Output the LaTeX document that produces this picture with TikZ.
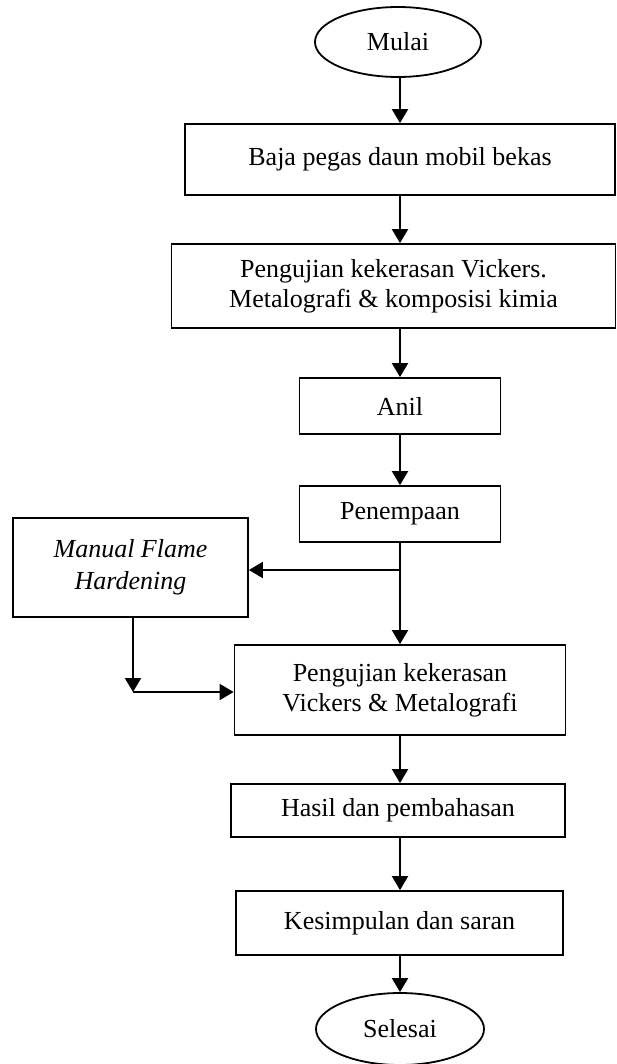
\documentclass[tikz,border=0pt]{standalone}
\usepackage{fontspec}
\setmainfont{Liberation Serif}
\usetikzlibrary{arrows.meta}
\usetikzlibrary{shapes.geometric}
\tikzset{proses/.style = {draw, line width = 0.9pt, inner sep = 0, align = center},
         batas/.style = {draw, ellipse, line width = 0.9pt, inner sep = 0},
         panah/.style = {line width = 1pt, -{Triangle[length = 7pt, width = 8pt]}}}

\begin{document}
\begin{tikzpicture}[x = 0.5pt, y = -0.5pt, font = \fontsize{13}{15}\selectfont]
      \useasboundingbox (0, 0) rectangle (616, 1064);
      \node [batas, minimum width = 83pt, minimum height = 35pt] (mulai) at (398, 42) {Mulai};
      \node [proses, minimum width = 215pt, minimum height = 35.5pt] (baja) at (400, 159.5)
        {Baja pegas daun mobil bekas};
      \node [proses, minimum width = 222pt, minimum height = 42pt] (uji1) at (393.5, 286)
        {Pengujian kekerasan Vickers.\\Metalografi \& komposisi kimia};
      \node [proses, minimum width = 100.5pt, minimum height = 28pt] (anil) at (400, 406) {Anil};
      \node [proses, minimum width = 100.5pt, minimum height = 28pt] (tempa) at (400, 514) {Penempaan};
      \node [proses, font = \fontsize{13}{16}\selectfont\itshape, minimum width = 117.5pt,
        minimum height = 49.5pt] (flame) at (130.5, 567.5) {Manual Flame\\Hardening};
      \node [proses, minimum width = 165.5pt, minimum height = 45pt] (uji2) at (400, 690)
        {Pengujian kekerasan\\Vickers \& Metalografi};
      \node [proses, minimum width = 167pt, minimum height = 26.5pt] (hasil) at (398, 810.5)
        {Hasil dan pembahasan};
      \node [proses, minimum width = 163.5pt, minimum height = 32pt] (simpul) at (399.5, 923)
        {Kesimpulan dan saran};
      \node [batas, minimum width = 84pt, minimum height = 36pt] (selesai) at (400, 1029) {Selesai};

      % alur utama
      \draw [panah] (baja.north |- mulai.south) -- (baja.north);
      \draw [panah] (baja.south) -- (baja.south |- uji1.north);
      \draw [panah] (anil.north |- uji1.south) -- (anil.north);
      \draw [panah] (anil.south) -- (tempa.north);
      \draw [panah] (tempa.south) -- (uji2.north);
      \draw [panah] (uji2.south) -- (uji2.south |- hasil.north);
      \draw [panah] (uji2.south |- hasil.south) -- (uji2.south |- simpul.north);
      \draw [panah] (uji2.south |- simpul.south) -- (selesai.north);

      % cabang flame hardening
      \coordinate (cabang) at (tempa.south |- 0, 570);
      \coordinate (belok) at (133, 692);
      \draw [panah] (cabang) -- (flame.east |- cabang);
      \draw [panah] (flame.south -| belok) -- (belok);
      \draw [panah] (belok) -- (uji2.west |- belok);
\end{tikzpicture}
\end{document}
